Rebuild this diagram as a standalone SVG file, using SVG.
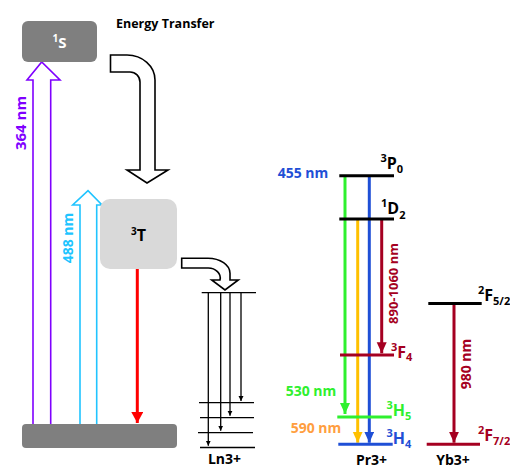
<svg xmlns="http://www.w3.org/2000/svg" width="510" height="467" viewBox="0 0 510 467">
<defs>
<style>
text{font-family:"Open Sans","Liberation Sans",sans-serif;font-weight:bold}
.lvl{stroke-width:3;fill:none}
.thin{stroke:#000;stroke-width:1.3;fill:none}
.hollow{fill:#fff;stroke:#000;stroke-width:1.6}
.lbl{font-size:14px}
.term{font-size:16px}
.sup{font-size:11px}
.ion{font-size:14px;fill:#000}
</style>
<marker id="hRed" markerUnits="userSpaceOnUse" markerWidth="12" markerHeight="12" refX="11" refY="6" orient="auto"><path d="M0,0 L11,6 L0,12 Z" fill="#ff0000"/></marker>
<marker id="hGreen" markerUnits="userSpaceOnUse" markerWidth="12" markerHeight="11" refX="11" refY="5" orient="auto"><path d="M0,0 L11,5 L0,10 Z" fill="#2ef02e"/></marker>
<marker id="hOrange" markerUnits="userSpaceOnUse" markerWidth="12" markerHeight="11" refX="11" refY="5" orient="auto"><path d="M0,0 L11,5 L0,10 Z" fill="#ffc000"/></marker>
<marker id="hBlue" markerUnits="userSpaceOnUse" markerWidth="12" markerHeight="11" refX="11" refY="5" orient="auto"><path d="M0,0 L11,5 L0,10 Z" fill="#1f4fd6"/></marker>
<marker id="hDark" markerUnits="userSpaceOnUse" markerWidth="12" markerHeight="11" refX="11" refY="5" orient="auto"><path d="M0,0 L11,5 L0,10 Z" fill="#a50021"/></marker>
<marker id="hSmall" markerUnits="userSpaceOnUse" markerWidth="6" markerHeight="6" refX="5" refY="2.5" orient="auto"><path d="M0,0 L5,2.5 L0,5 Z" fill="#000"/></marker>
</defs>

<g id="excitation-arrows">
<path d="M33,424 V80 H27 L41.7,62 L60,80 H50.7 V424" fill="none" stroke="#7f00ff" stroke-width="1.6"/>
<path d="M80,424 V205 H72.7 L88,190.7 L102,205 H96.7 V424" fill="none" stroke="#20c4ff" stroke-width="1.6"/>
</g>

<g id="ground">
<rect x="22" y="424" width="155" height="24" rx="4" fill="#7f7f7f"/>
</g>

<g id="S1">
<rect x="22" y="21" width="75" height="41" rx="6" fill="#7f7f7f"/>
<text x="52.5" y="47.7" fill="#fff" font-size="15"><tspan font-size="10" dy="-6">1</tspan><tspan dy="6">S</tspan></text>
</g>

<g id="T3">
<rect x="100" y="199" width="77" height="70" rx="10" fill="#d9d9d9"/>
<text x="131" y="241" fill="#000" font-size="16"><tspan font-size="10" dy="-6">3</tspan><tspan dy="6">T</tspan></text>
</g>

<g id="energy-transfer-label">
<text x="116" y="28" font-size="12.5" fill="#000">Energy Transfer</text>
</g>

<g id="labels-left">
<text transform="translate(20,123) rotate(-90)" text-anchor="middle" dominant-baseline="central" font-size="15" fill="#7f00ff">364 nm</text>
<text transform="translate(67,238) rotate(-90)" text-anchor="middle" dominant-baseline="central" font-size="14" fill="#20c4ff">488 nm</text>
</g>

<g id="connectors">
<path class="hollow" d="M110.5,55 H127 A28,25 0 0 1 155,80 V170 H168 L147,183 L127,170 H140 V82 A10,10 0 0 0 130,72 H110.5 Z"/>
<path class="hollow" d="M181.7,258.3 H208 A22,15 0 0 1 230,273.3 V280 H238.3 L225,290 L211.7,280 H220 A12,10 0 0 0 208,268 H181.7 Z"/>
<line x1="137.3" y1="269" x2="137.3" y2="423" stroke="#ff0000" stroke-width="3" marker-end="url(#hRed)"/>
<line class="thin" x1="208.3" y1="292.7" x2="208.3" y2="445.7" marker-end="url(#hSmall)"/>
<line class="thin" x1="220.7" y1="292.7" x2="220.7" y2="430.7" marker-end="url(#hSmall)"/>
<line class="thin" x1="230" y1="292.7" x2="230" y2="415.7" marker-end="url(#hSmall)"/>
<line class="thin" x1="241" y1="292.7" x2="241" y2="401" marker-end="url(#hSmall)"/>
<line x1="345" y1="176" x2="345" y2="414" stroke="#2ef02e" stroke-width="3" marker-end="url(#hGreen)"/>
<line x1="357.7" y1="219" x2="357.7" y2="442.7" stroke="#ffc000" stroke-width="3" marker-end="url(#hOrange)"/>
<line x1="369.3" y1="176" x2="369.3" y2="442.7" stroke="#1f4fd6" stroke-width="3" marker-end="url(#hBlue)"/>
<line x1="381.7" y1="219" x2="381.7" y2="353.3" stroke="#a50021" stroke-width="3" marker-end="url(#hDark)"/>
<line x1="454" y1="304" x2="454" y2="442.7" stroke="#a50021" stroke-width="3" marker-end="url(#hDark)"/>
</g>

<g id="Ln3">
<line class="thin" stroke-width="1.6" x1="201.7" y1="292.7" x2="256" y2="292.7"/>
<line class="thin" stroke-width="1.6" x1="199" y1="402.7" x2="254" y2="402.7"/>
<line class="thin" stroke-width="1.6" x1="200" y1="417.7" x2="254" y2="417.7"/>
<line class="thin" stroke-width="1.6" x1="198" y1="432.7" x2="253" y2="432.7"/>
<line class="thin" stroke-width="1.6" x1="200" y1="447.5" x2="255" y2="447.5"/>
<text x="224.5" y="463.5" text-anchor="middle" class="ion" font-size="13.5">Ln3+</text>
</g>

<g id="Pr3">
<line class="lvl" stroke="#000" x1="339.3" y1="175.7" x2="394" y2="175.7"/>
<line class="lvl" stroke="#000" x1="339.3" y1="219" x2="394" y2="219"/>
<line class="lvl" stroke="#a50021" x1="340" y1="355" x2="394" y2="355"/>
<line class="lvl" stroke="#2ef02e" x1="337.3" y1="417" x2="391.7" y2="417"/>
<line class="lvl" stroke="#1f4fd6" x1="338.3" y1="444.3" x2="392.7" y2="444.3"/>
<text x="380.5" y="169" fill="#000" class="term"><tspan class="sup" dy="-7">3</tspan><tspan dy="7">P</tspan><tspan class="sup" dy="4">0</tspan></text>
<text x="381" y="213.5" fill="#000" class="term"><tspan class="sup" dy="-7">1</tspan><tspan dy="7">D</tspan><tspan class="sup" dy="5">2</tspan></text>
<text x="391" y="358" fill="#a50021" class="term"><tspan class="sup" dy="-7">3</tspan><tspan dy="7">F</tspan><tspan class="sup" dy="3">4</tspan></text>
<text x="386.5" y="416" fill="#2ef02e" class="term"><tspan class="sup" dy="-7">3</tspan><tspan dy="7">H</tspan><tspan class="sup" dy="4">5</tspan></text>
<text x="386.5" y="443.5" fill="#1f4fd6" class="term"><tspan class="sup" dy="-7">3</tspan><tspan dy="7">H</tspan><tspan class="sup" dy="4">4</tspan></text>
<text x="303" y="172.7" text-anchor="middle" dominant-baseline="central" class="lbl" fill="#1f4fd6">455 nm</text>
<text x="311" y="390" text-anchor="middle" dominant-baseline="central" class="lbl" fill="#2ef02e">530 nm</text>
<text x="316" y="427.3" text-anchor="middle" dominant-baseline="central" class="lbl" fill="#ff9e40">590 nm</text>
<text transform="translate(393,283.5) rotate(-90)" text-anchor="middle" dominant-baseline="central" font-size="13" fill="#a50021">890-1060 nm</text>
<text x="371.5" y="464.5" text-anchor="middle" class="ion">Pr3+</text>
</g>

<g id="Yb3">
<line class="lvl" stroke="#000" x1="428.3" y1="303.5" x2="481.7" y2="303.5"/>
<line class="lvl" stroke="#a50021" x1="426.7" y1="444.3" x2="480" y2="444.3"/>
<text x="478" y="300.5" fill="#000" class="term"><tspan class="sup" dy="-7">2</tspan><tspan dy="7">F</tspan><tspan class="sup" dy="4">5/2</tspan></text>
<text x="478" y="440.5" fill="#a50021" class="term"><tspan class="sup" dy="-7">2</tspan><tspan dy="7">F</tspan><tspan class="sup" dy="4">7/2</tspan></text>
<text transform="translate(465,364) rotate(-90)" text-anchor="middle" dominant-baseline="central" font-size="14" fill="#a50021">980 nm</text>
<text x="453" y="464.5" text-anchor="middle" class="ion">Yb3+</text>
</g>
</svg>
